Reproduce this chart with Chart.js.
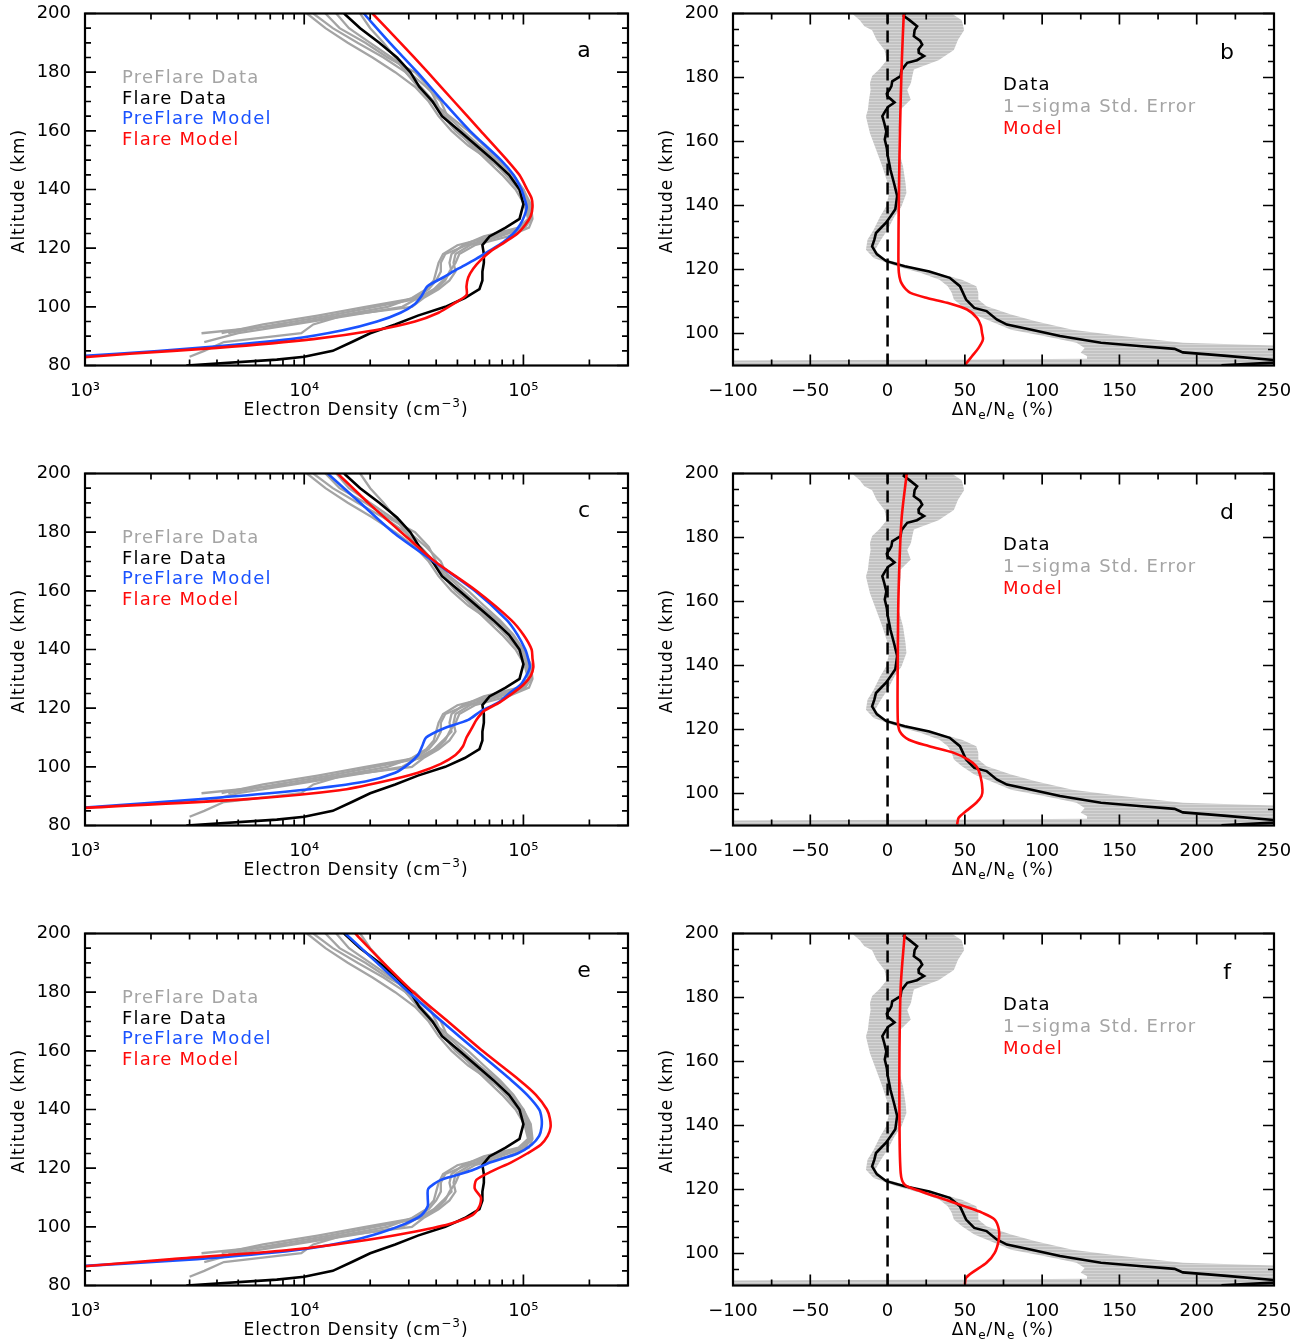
<!DOCTYPE html>
<html>
<head>
<meta charset="utf-8">
<script src="https://cdn.jsdelivr.net/npm/chart.js@4.4.1/dist/chart.umd.min.js"></script>
<style>
  html, body { margin: 0; padding: 0; background: #fff; }
  #wrap { position: relative; width: 1294px; height: 1342px; overflow: hidden; }
</style>
</head>
<body>
<div id="wrap"></div>
<script>
// ---- measured electron density profiles (left panels), cm^-3 vs km ----
const dataAlt = [200,195,190,185,180,175,170,165,160,155,150,145,140,135,130,127,124,121,118,115,112,109,106,103,100,97,94,91,88,85,83,82,80];
const flareData = [1.52e4,1.8e4,2.2e4,2.65e4,3.05e4,3.35e4,3.85e4,4.25e4,5.1e4,6.1e4,7.3e4,8.6e4,9.6e4,1.0e5,9.6e4,8.3e4,7.0e4,6.5e4,6.6e4,6.6e4,6.5e4,6.5e4,6.3e4,5.4e4,4.4e4,3.3e4,2.6e4,2.0e4,1.65e4,1.35e4,1.0e4,7.5e3,2.9e3];
const preflare1 = [1.03e4,1.25e4,1.58e4,2.05e4,2.6e4,3.2e4,3.7e4,4.1e4,4.7e4,5.6e4,7.0e4,8.6e4,1.0e5,1.06e5,1.09e5,1.0e5,7.2e4,5.0e4,4.3e4,4.1e4,4.0e4,3.9e4,3.6e4,3.1e4,2.4e4,1.45e4,8.5e3,3.4e3,null,null,null,null,null];
const preflare2 = [1.1e4,1.35e4,1.75e4,2.3e4,2.9e4,3.4e4,3.9e4,4.4e4,5.0e4,5.8e4,6.8e4,8.0e4,9.2e4,1.01e5,1.05e5,9.5e4,6.6e4,5.3e4,4.7e4,4.6e4,4.7e4,4.3e4,3.9e4,3.3e4,2.8e4,1.6e4,9.0e3,5.0e3,3.5e3,null,null,null,null];
const preflare3 = [1.4e4,1.6e4,2.0e4,2.5e4,3.0e4,3.6e4,4.2e4,4.5e4,5.3e4,6.3e4,7.6e4,8.9e4,9.8e4,1.04e5,1.08e5,1.02e5,7.8e4,5.7e4,4.9e4,4.8e4,4.9e4,4.6e4,4.1e4,3.5e4,3.1e4,1.5e4,1.1e4,9.7e3,4.3e3,3.5e3,3.0e3,null,null];
const preflare4 = [1.8e4,2.0e4,2.3e4,2.6e4,2.9e4,3.3e4,3.8e4,4.6e4,5.6e4,6.6e4,7.8e4,9.0e4,1.0e5,1.08e5,1.1e5,1.06e5,8.5e4,6.0e4,5.1e4,4.9e4,4.6e4,4.4e4,4.0e4,3.4e4,2.1e4,1.3e4,7.5e3,4.5e3,null,null,null,null,null];
const preflare5 = [1.25e4,1.45e4,1.9e4,2.4e4,3.2e4,3.7e4,4.0e4,4.3e4,4.9e4,5.9e4,7.2e4,8.3e4,9.5e4,1.03e5,1.06e5,9.8e4,7.5e4,5.5e4,4.4e4,4.2e4,4.2e4,4.0e4,3.7e4,3.2e4,1.9e4,1.15e4,6.5e3,4.2e3,null,null,null,null,null];

// ---- model density profiles (panels a, c, e) ----
const modelAlt = [200,190,180,170,160,150,145,140,137,134,131,128,125,122,119,116,113,110,107,104,101,98,95,92,89,86,84,82];
const preModelA = [1.87e4,2.46e4,3.28e4,4.3e4,5.7e4,7.9e4,9.0e4,9.8e4,1.01e5,1.035e5,1.01e5,9.66e4,9.0e4,8.07e4,6.95e4,5.98e4,5.04e4,4.3e4,3.65e4,3.45e4,3.2e4,2.75e4,2.15e4,1.5e4,8.7e3,3.3e3,1.4e3,5e2];
const flareModelA = [2.05e4,2.75e4,3.66e4,4.83e4,6.38e4,8.43e4,9.58e4,1.04e5,1.09e5,1.10e5,1.08e5,1.02e5,9.4e4,8.2e4,7.1e4,6.4e4,5.9e4,5.6e4,5.5e4,5.5e4,4.8e4,4.1e4,3.2e4,2.1e4,1.1e4,4.0e3,1.6e3,7e2];
const preModelC = [1.28e4,1.8e4,2.54e4,3.9e4,6.0e4,8.4e4,9.4e4,1.02e5,1.05e5,1.07e5,1.03e5,9.7e4,8.6e4,7.7e4,6.4e4,5.6e4,4.3e4,3.6e4,3.45e4,3.3e4,3.0e4,2.6e4,1.9e4,9.5e3,3.4e3,9.5e2,4e2,2e2];
const flareModelC = [1.42e4,1.96e4,2.77e4,3.95e4,6.1e4,8.8e4,1.0e5,1.09e5,1.1e5,1.11e5,1.08e5,1.0e5,8.9e4,7.8e4,6.6e4,6.1e4,5.8e4,5.5e4,5.3e4,4.9e4,4.2e4,3.3e4,2.3e4,1.45e4,5.5e3,1.0e3,4e2,2e2];
const preModelE = [1.54e4,2.15e4,3.0e4,4.25e4,6.1e4,8.8e4,1.04e5,1.18e5,1.21e5,1.21e5,1.18e5,1.09e5,9.4e4,7.1e4,5.7e4,4.2e4,3.68e4,3.66e4,3.66e4,3.43e4,2.88e4,2.23e4,1.58e4,9.1e3,3.25e3,7e2,3e2,1.5e2];
const flareModelE = [1.71e4,2.3e4,3.15e4,4.53e4,6.5e4,9.6e4,1.14e5,1.28e5,1.32e5,1.33e5,1.29e5,1.2e5,1.04e5,8.8e4,7.2e4,6.1e4,6.0e4,6.4e4,6.3e4,5.85e4,4.6e4,3.0e4,1.73e4,8.3e3,2.5e3,8e2,3e2,1.5e2];

// ---- relative change dNe/Ne (%) (right panels) ----
const ratioAlt = [200,199.2,198,196,194.8,192.9,191.5,190.3,188.8,187.7,186.7,185.4,184.6,182.3,180.4,178.8,177.3,176.2,175,174.2,172.2,170.9,169.5,167.9,165.7,163.1,160.6,158,155.8,151.1,147.1,143,138.8,136.6,134.6,131.4,129.4,127.2,124.8,122.6,121,119.4,117.4,114.8,110.6,108,107,104.4,102.8,101.2,99.2,97.1,96,95.2,94.1,93.1,91.7,91.2,90.05];
const ratioData = [11,10.5,14,19.1,17.5,17,21,22.4,20,20.2,23.6,19,12.7,9,8.4,3,2.5,1.3,-0.5,-0.2,4.5,0.5,-1.5,-3.4,-2.1,-0.8,-1.8,-0.5,0,1.9,4.1,6.2,5,1.9,-1,-7.5,-8.5,-10,-7,-0.8,11.1,27,40.2,46.8,50.8,56.1,64,70.6,77.2,93.1,111.6,138.1,164.6,185.7,191,217.5,249.7,262,216];
const bandAlt = [200,197.9,196,194.8,191.7,188.6,185.4,182.5,180.5,178.2,176.1,173.1,170,167.8,162.6,157.4,152.2,147,143.9,139.7,136.6,132.4,129.3,126.2,123.6,121,118.9,116.8,114.8,112.7,110.6,108.5,105.9,103.8,101.2,99.2,97.1,95.5,94,93,92.1,91.9,91.5,89.5];
const bandLo = [-23,-18,-15,-10,-7,-2,-0.5,-5.5,-10,-11.4,-11,-12,-12.7,-14,-11.4,-7.4,-3.4,0,1,-1,-4.8,-9,-13,-14,-9,5.8,21.7,33.6,38.9,41.5,42.9,48.1,56.1,66.7,79.9,101.1,122.2,127.5,124.9,129,129,56,-150,-150];
const bandHi = [41.5,48,49,49.5,45.5,42.9,33,17,16,15.1,12.7,15,8.4,8.5,7.1,7.1,10,11.6,12.2,9,4.5,0,-4.3,-8,-3.4,13.8,32.3,48.1,57.4,58.7,58.7,64,79.9,95.8,119.6,151.3,191,300,300,300,300,300,300,300];

const modelAltB = [200,185,163,142,124,119,116.5,115.3,114,112.7,111.1,109.6,107.5,104.9,102.5,100.2,98.1,95.5,92.9,90.3];
const modelB = [10.5,9.2,8.0,7.3,7.0,7.3,8.3,9.5,11.5,14.8,25.6,38.5,51.4,57.8,60.3,61.1,61.7,58.9,54.6,50.3];
const modelAltD = [200,185.4,162.6,141.8,123.1,119.4,116.8,114.8,112.7,110.6,108.5,105.4,101.2,99.2,97.1,94.5,92.4,90.3];
const modelD = [12.4,9,7.1,6.6,6.6,7.9,13.8,27,42.9,52.1,57.4,60.1,61.4,60.8,57.4,50.8,46,45];
const modelAltF = [200,183.4,162.6,141.8,125.1,121.5,119.4,116.8,114.8,112.7,110.6,107.5,104.4,100.2,97.1,94.5,92.4,90.3];
const modelF = [11.1,8.5,7.7,7.7,8.5,11.1,21.7,37.6,49.5,61.4,69.3,72,72,69.3,64,56.1,50.8,50];

// ---- tick values ----
const densTicks = [1e3, 1e4, 1e5];
const densMinor = [2e3,3e3,4e3,5e3,6e3,7e3,8e3,9e3,2e4,3e4,4e4,5e4,6e4,7e4,8e4,9e4,2e5];
const altTicksL = [80,100,120,140,160,180,200];
const altTicksR = [100,120,140,160,180,200];
const ratioTicks = [-100,-50,0,50,100,150,200,250];
const ratioMinor = [-75,-25,25,75,125,175,225];

const FONT = '"DejaVu Sans", "Liberation Sans", sans-serif';
const GRAY = '#a4a4a4';
const BLUE = '#1a52ff';
const RED = '#ff0a0a';

function pts(xs, ys) {
  return xs.map((v, i) => v == null ? null : { x: v, y: ys[i] }).filter(p => p);
}
function minorsBetween(lo, hi, step, skip) {
  const out = [];
  for (let v = lo + step; v < hi; v += step) if (v % skip !== 0) out.push(v);
  return out;
}

function addCanvas(left, top, w, h) {
  const c = document.createElement('canvas');
  c.width = w; c.height = h;
  c.style.cssText = `position:absolute;left:${left}px;top:${top}px;width:${w}px;height:${h}px`;
  document.getElementById('wrap').appendChild(c);
  return c;
}

function drawParts(ctx, parts, x, y, align) {
  let w = 0;
  parts.forEach(p => { ctx.font = `${p.s}px ${FONT}`; w += ctx.measureText(p.t).width; });
  let cx = align === 'center' ? x - w / 2 : x;
  parts.forEach(p => {
    ctx.font = `${p.s}px ${FONT}`;
    ctx.fillText(p.t, cx, y + (p.dy || 0));
    cx += ctx.measureText(p.t).width;
  });
}

function framePlugin(cfg) {
  return {
    id: 'frame',
    afterDraw(chart) {
      const { ctx, chartArea: a, scales: { x, y } } = chart;
      ctx.save();
      ctx.strokeStyle = '#000';
      ctx.lineWidth = 1.7;
      ctx.beginPath();
      const tx = (v, len) => {
        const p = x.getPixelForValue(v);
        ctx.moveTo(p, a.bottom); ctx.lineTo(p, a.bottom - len);
        ctx.moveTo(p, a.top); ctx.lineTo(p, a.top + len);
      };
      const ty = (v, len) => {
        const p = y.getPixelForValue(v);
        ctx.moveTo(a.left, p); ctx.lineTo(a.left + len, p);
        ctx.moveTo(a.right, p); ctx.lineTo(a.right - len, p);
      };
      cfg.xMajor.forEach(v => tx(v, 11));
      cfg.xMinor.forEach(v => tx(v, 6));
      cfg.yMajor.forEach(v => ty(v, 11));
      cfg.yMinor.forEach(v => ty(v, 6));
      ctx.stroke();
      ctx.lineWidth = 2.2;
      ctx.strokeRect(a.left, a.top, a.width, a.height);

      ctx.textBaseline = 'middle';
      ctx.textAlign = 'left';
      ctx.letterSpacing = '1.2px';
      cfg.legend.forEach(l => {
        ctx.fillStyle = l.color;
        ctx.font = `${l.size}px ${FONT}`;
        ctx.fillText(l.text, l.x, l.y);
      });
      ctx.fillStyle = '#000';
      ctx.font = `22px ${FONT}`;
      ctx.textAlign = 'center';
      ctx.letterSpacing = '0px';
      ctx.fillText(cfg.letter, cfg.letterX, cfg.letterY);

      ctx.textAlign = 'left';
      ctx.letterSpacing = '1px';
      drawParts(ctx, cfg.xTitle, cfg.xTitleX, 411, 'center');
      ctx.save();
      ctx.translate(cfg.yTitleX, 191);
      ctx.rotate(-Math.PI / 2);
      drawParts(ctx, [{ t: 'Altitude (km)', s: 17 }], 0, 0, 'center');
      ctx.restore();
      ctx.restore();
    }
  };
}

function lineSet(data, color, width, tension) {
  return { data, borderColor: color, borderWidth: width, showLine: true, pointRadius: 0,
           tension: tension || 0, fill: false };
}

function makeScales(g, xCfg, yTicks, yMin) {
  return {
    x: Object.assign({
      position: 'bottom',
      grid: { display: false }, border: { display: false },
      afterFit: s => { s.height = g.h - g.bottom; s.paddingLeft = 0; s.paddingRight = 0; }
    }, xCfg),
    y: {
      type: 'linear', min: yMin, max: 200,
      grid: { display: false }, border: { display: false },
      ticks: { font: { family: FONT, size: 18 }, color: '#000', padding: 6, autoSkip: false },
      afterBuildTicks: s => { s.ticks = yTicks.map(v => ({ value: v })); },
      afterFit: s => { s.width = g.left; s.paddingTop = 0; s.paddingBottom = 0; }
    }
  };
}

const supLabel = { 1000: '10\u00B3', 10000: '10\u2074', 100000: '10\u2075' };

function densityPanel(row, letter, preModel, flareModel) {
  const g = { w: 645, h: 422, left: 85, right: 628, top: 13.5, bottom: 365.5 };
  const canvas = addCanvas(0, row * 460, g.w, g.h);
  const grays = [preflare1, preflare2, preflare3, preflare4, preflare5];
  const datasets = [
    lineSet(pts(flareModel, modelAlt), RED, 2.6, 0.25),
    lineSet(pts(preModel, modelAlt), BLUE, 2.6, 0.25),
    lineSet(pts(flareData, dataAlt), '#000', 2.6)
  ].concat(grays.map(gs => lineSet(pts(gs, dataAlt), GRAY, 2.3)));

  const cfg = {
    xMajor: densTicks, xMinor: densMinor,
    yMajor: altTicksL, yMinor: minorsBetween(80, 200, 5, 20),
    legend: [
      { text: 'PreFlare Data', color: GRAY, size: 18, x: 122, y: 78 },
      { text: 'Flare Data', color: '#000', size: 18, x: 122, y: 99 },
      { text: 'PreFlare Model', color: BLUE, size: 18, x: 122, y: 119.5 },
      { text: 'Flare Model', color: RED, size: 18, x: 122, y: 140 }
    ],
    letter, letterX: 584, letterY: 51,
    xTitle: [{ t: 'Electron Density (cm', s: 17 }, { t: '\u22123', s: 12, dy: -7 }, { t: ')', s: 17 }],
    xTitleX: 356, yTitleX: 20
  };

  new Chart(canvas, {
    type: 'scatter',
    data: { datasets },
    plugins: [framePlugin(cfg)],
    options: {
      responsive: false, animation: false, devicePixelRatio: 1,
      layout: { padding: { top: g.top, right: g.w - g.right, left: 0, bottom: 0 } },
      plugins: { legend: { display: false }, tooltip: { enabled: false } },
      scales: makeScales(g, {
        type: 'logarithmic', min: 1e3, max: 3e5,
        afterBuildTicks: s => { s.ticks = densTicks.map(v => ({ value: v })); },
        ticks: { font: { family: FONT, size: 18 }, color: '#000', padding: 7, maxRotation: 0, autoSkip: false,
                 callback: v => supLabel[v] || '' }
      }, altTicksL, 80)
    }
  });
}

let bandFill = null;
function stripes() {
  if (bandFill) return bandFill;
  const c = document.createElement('canvas');
  c.width = 4; c.height = 3;
  const p = c.getContext('2d');
  p.fillStyle = '#c3c3c3'; p.fillRect(0, 0, 4, 3);
  p.fillStyle = '#d5d5d5'; p.fillRect(0, 2, 4, 1);
  bandFill = p.createPattern(c, 'repeat');
  return bandFill;
}

function ratioPanel(row, letter, modelAlt, model) {
  const g = { w: 647, h: 422, left: 86, right: 627, top: 13.5, bottom: 365.5 };
  const canvas = addCanvas(647, row * 460, g.w, g.h);
  const band = pts(bandLo, bandAlt).concat(pts(bandHi, bandAlt).reverse());
  const datasets = [
    lineSet(pts(model, modelAlt), RED, 2.6, 0.3),
    lineSet(pts(ratioData, ratioAlt), '#000', 2.6),
    Object.assign(lineSet([{ x: 0, y: 90 }, { x: 0, y: 200 }], '#000', 2.5), { borderDash: [12, 7] }),
    { data: band, showLine: true, pointRadius: 0, borderWidth: 0, borderColor: 'rgba(0,0,0,0)',
      backgroundColor: stripes(), fill: 'shape', tension: 0 }
  ];

  const cfg = {
    xMajor: ratioTicks, xMinor: ratioMinor,
    yMajor: altTicksR, yMinor: minorsBetween(90, 200, 5, 20).filter(v => v !== 90),
    legend: [
      { text: 'Data', color: '#000', size: 18, x: 356, y: 85 },
      { text: '1\u2212sigma Std. Error', color: GRAY, size: 18, x: 356, y: 107 },
      { text: 'Model', color: RED, size: 18, x: 356, y: 129 }
    ],
    letter, letterX: 580, letterY: 53,
    xTitle: [{ t: '\u0394N', s: 17 }, { t: 'e', s: 12, dy: 5 }, { t: '/N', s: 17 }, { t: 'e', s: 12, dy: 5 }, { t: ' (%)', s: 17 }],
    xTitleX: 356, yTitleX: 21
  };

  new Chart(canvas, {
    type: 'scatter',
    data: { datasets },
    plugins: [framePlugin(cfg)],
    options: {
      responsive: false, animation: false, devicePixelRatio: 1,
      layout: { padding: { top: g.top, right: g.w - g.right, left: 0, bottom: 0 } },
      plugins: { legend: { display: false }, tooltip: { enabled: false } },
      scales: makeScales(g, {
        type: 'linear', min: -100, max: 250,
        afterBuildTicks: s => { s.ticks = ratioTicks.map(v => ({ value: v })); },
        ticks: { font: { family: FONT, size: 18 }, color: '#000', padding: 7, maxRotation: 0, autoSkip: false,
                 callback: v => v < 0 ? '\u2212' + Math.abs(v) : String(v) }
      }, altTicksR, 90)
    }
  });
}

densityPanel(0, 'a', preModelA, flareModelA);
densityPanel(1, 'c', preModelC, flareModelC);
densityPanel(2, 'e', preModelE, flareModelE);
ratioPanel(0, 'b', modelAltB, modelB);
ratioPanel(1, 'd', modelAltD, modelD);
ratioPanel(2, 'f', modelAltF, modelF);
</script>
</body>
</html>
